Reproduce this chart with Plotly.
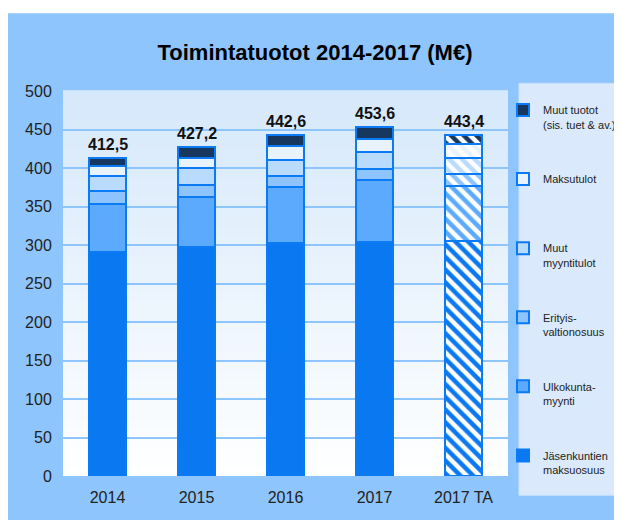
import plotly.graph_objects as go

categories = ["2014", "2015", "2016", "2017", "2017 TA"]
jasenkuntien = [291, 298, 303, 304, 305]
ulkokunta = [62, 64, 72, 81, 72]
erityis = [17, 16.5, 14.3, 14.3, 15.2]
muut_myynti = [19.5, 21, 21.7, 21.7, 21.2]
maksutulot = [13, 13.5, 17.3, 17.3, 17.3]
muut_tuotot = [10, 14.2, 14.3, 15.3, 12.7]
totals = [412.5, 427.2, 442.6, 453.6, 443.4]
y_ticks = [0, 50, 100, 150, 200, 250, 300, 350, 400, 450, 500]

series = [
    ("Jäsenkuntien<br>maksuosuus", jasenkuntien, "#0A78F0"),
    ("Ulkokunta-<br>myynti", ulkokunta, "#5CAAFD"),
    ("Erityis-<br>valtionosuus", erityis, "#8DC4FD"),
    ("Muut<br>myyntitulot", muut_myynti, "#B9DBFD"),
    ("Maksutulot<br> ", maksutulot, "#E9F3FE"),
    ("Muut tuotot<br>(sis. tuet & av.)", muut_tuotot, "#17375E"),
]

FONT = "Liberation Sans"
BORDER = "#0A7AF5"

fig = go.Figure()
for i, (name, vals, col) in enumerate(series):
    shapes_ = ["" if c != "2017 TA" else "\\" for c in categories]
    fig.add_trace(go.Bar(
        x=categories, y=vals, name=name, legendgroup=f"g{i}",
        legendrank=100 - i,
        width=0.41,
        marker=dict(
            color=col,
            line=dict(color=BORDER, width=2),
            pattern=dict(shape=shapes_, fgcolor=col, bgcolor="white",
                         size=9, solidity=0.5, fillmode="replace"),
        ),
    ))

for idx, t in enumerate(totals):
    fig.add_annotation(x=idx, y=t, text="<b>" + f"{t:.1f}".replace(".", ",") + "</b>",
                       showarrow=False, yanchor="bottom", yshift=3,
                       font=dict(family=FONT, size=16, color="#111"))

# page offset (browser body margin)
OFF = 8
# plot-area geometry in screen pixels
L, R, T, B = 63, 508, 90.7, 475.7
W, H = R - L, B - T

def px_x(p):
    return (p - L) / W

def px_y(p):
    return (B - p) / H

shapes = []
shapes.append(dict(type="rect", xref="paper", yref="paper",
                   x0=px_x(8), x1=px_x(700), y0=px_y(600), y1=px_y(13),
                   fillcolor="#8EC5FC", line=dict(width=0), layer="below"))
N = 40
top = (213, 232, 251)
bot = (255, 255, 255)
for k in range(N):
    f = (k + 0.5) / N
    r = round(bot[0] + (top[0] - bot[0]) * f)
    g = round(bot[1] + (top[1] - bot[1]) * f)
    b = round(bot[2] + (top[2] - bot[2]) * f)
    shapes.append(dict(type="rect", xref="paper", yref="paper",
                       x0=0, x1=1, y0=k / N, y1=(k + 1) / N + 0.002,
                       fillcolor=f"rgb({r},{g},{b})", line=dict(width=0),
                       layer="below"))
shapes.append(dict(type="rect", xref="paper", yref="paper",
                   x0=px_x(519), x1=px_x(700), y0=px_y(495), y1=px_y(83),
                   fillcolor="#DAEAFC", line=dict(color="#C9E1FB", width=1),
                   layer="below"))

fig.update_layout(
    width=622, height=520,
    margin=dict(l=L - OFF, r=622 - (R - OFF), t=T - OFF, b=520 - (B - OFF),
                autoexpand=False),
    barmode="stack",
    paper_bgcolor="white",
    plot_bgcolor="rgba(0,0,0,0)",
    shapes=shapes,
    title=dict(text="<b>Toimintatuotot 2014-2017 (M€)</b>", xref="container",
               x=(315 - OFF) / 622, xanchor="center", yref="container",
               y=1 - (52 - OFF) / 520, yanchor="middle",
               font=dict(family=FONT, size=22, color="#000")),
    font=dict(family=FONT, color="#222"),
    legend=dict(x=px_x(503), xanchor="left", y=px_y(96), yanchor="top",
                bgcolor="rgba(0,0,0,0)", traceorder="grouped",
                tracegroupgap=37.5, valign="top", maxheight=430,
                font=dict(family=FONT, size=11, color="#222"),
                itemwidth=30),
    showlegend=True,
)
fig.update_xaxes(type="category", range=[-0.5, 4.5], showgrid=False, showline=True,
                 linecolor="#8EC5FC", linewidth=2,
                 ticks="outside", tickson="boundaries", ticklen=6,
                 tickcolor="#8EC5FC", tickwidth=1.5, ticklabelstandoff=6,
                 tickfont=dict(family=FONT, size=16, color="#222"))
fig.update_yaxes(range=[0, 500], tickvals=y_ticks, showgrid=True,
                 gridcolor="#8EC5FC", gridwidth=1.5, zeroline=False,
                 showline=True, linecolor="#8EC5FC", linewidth=2,
                 ticks="outside", ticklen=6, tickcolor="#8EC5FC",
                 tickfont=dict(family=FONT, size=16, color="#222"))

fig.write_html("out.html")
